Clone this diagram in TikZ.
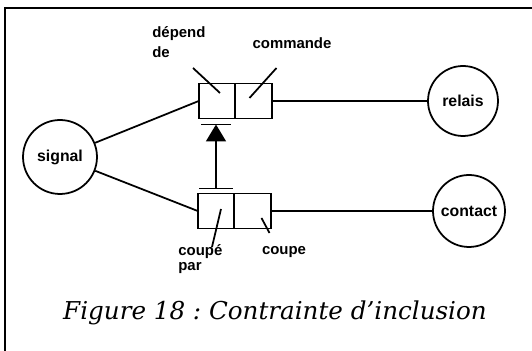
\documentclass[tikz,border=0pt]{standalone}
\usepackage{fontspec}
\setsansfont{Liberation Sans}
\newfontfamily\captionfont{DejaVu Serif}
\usetikzlibrary{positioning, arrows.meta, calc}
\colorlet{drawColor}{black}
\tikzstyle{place}=[circle, draw=drawColor, line width=1pt, inner sep=0pt,
  font=\sffamily\bfseries\fontsize{9}{10}\selectfont]
\tikzstyle{cell}=[rectangle, draw=drawColor, line width=1pt, inner sep=0pt,
  outer sep=0pt, minimum width=0.73cm, minimum height=0.7cm]
\tikzstyle{role}=[font=\sffamily\bfseries\fontsize{8.5}{9}\selectfont, align=left, inner sep=0pt]
\tikzstyle{link}=[line width=1pt, draw=drawColor]
\tikzstyle{incl}=[-{Triangle[length=0.34cm,width=0.4cm]}, line width=1pt]
\tikzstyle{caption}=[font=\captionfont\fontsize{14}{16}\selectfont\itshape\frenchspacing]

\begin{document}
\begin{tikzpicture}[x=0.02cm, y=0.02cm]
      \useasboundingbox (0,0) rectangle (532,351);
      \draw [link] (5,0) -- (5,343) -- (532,343);
      % places
      \node (signal) [place, minimum size=1.48cm] at (60,194) {signal};
      \node (relais) [place, minimum size=1.4cm] at (463,250) {relais};
      \node (contact) [place, minimum size=1.44cm] at (469,140) {contact};
      % roles
      \node (depend) [cell] at (217,250) {};
      \node (commande) [cell, right=0pt of depend] {};
      \node (coupePar) [cell] at (216,140) {};
      \node (coupe) [cell, right=0pt of coupePar] {};
      \draw [link] (signal) -- (depend.west);
      \draw [link] (signal) -- (coupePar.west);
      \draw [link] (commande.east) -- (relais);
      \draw [link] (coupe.east) -- (contact);
      % role labels
      \node (dependLbl) [role, anchor=west] at (152,309) {dépend\\[2pt]de};
      \node (commandeLbl) [role] at (292,308) {commande};
      \node (coupeParLbl) [role, anchor=west] at (178,92) {coupé\\[0pt]par};
      \node (coupeLbl) [role] at (284,99) {coupe};
      \draw [link] ($(depend)+(-24,33)$) -- ($(depend)+(3,8)$);
      \draw [link] ($(commande)+(23,33)$) -- ($(commande)+(-4,3)$);
      \draw [link] ($(coupePar)+(5,2)$) -- ($(coupePar)+(-4,-36)$);
      \draw [link] ($(coupe)+(9,-7)$) -- ($(coupe)+(17,-22)$);
      % inclusion
      \coordinate (topBar) at ($(depend.south)+(-1,-6)$);
      \coordinate (botBar) at ($(coupePar.north)+(0,5)$);
      \draw [link] ($(topBar)+(-15,0)$) -- ($(topBar)+(15,0)$);
      \draw [link] ($(botBar)+(-17,0)$) -- ($(botBar)+(17,0)$);
      \draw [incl] (botBar) -- (topBar);
      \node (fig) [caption] at (275,38) {Figure 18 : Contrainte d’inclusion};
    \end{tikzpicture}
\end{document}
